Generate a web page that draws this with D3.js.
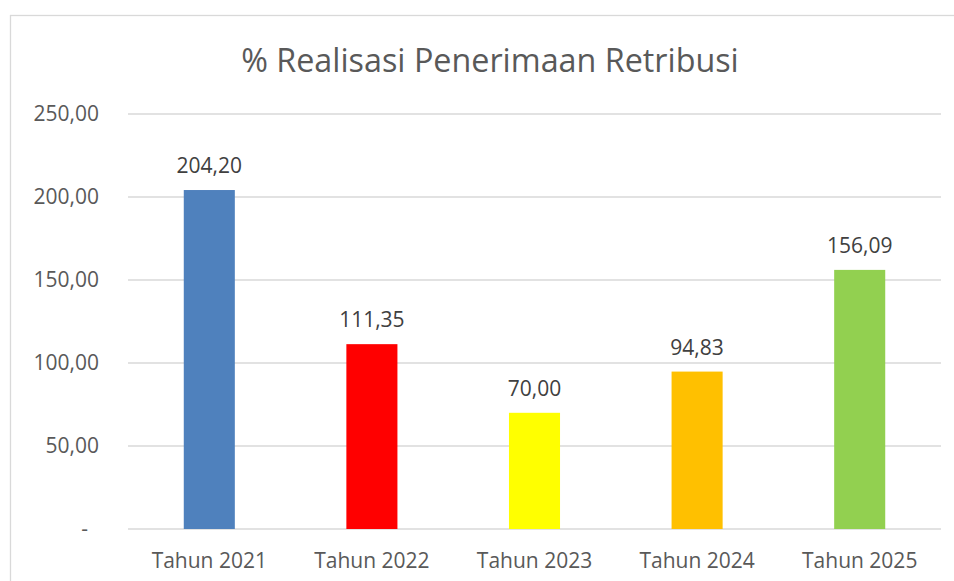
<!DOCTYPE html>
<html>
<head>
<meta charset="utf-8">
<script src="https://cdn.jsdelivr.net/npm/d3@7"></script>
<style>
  body { margin: 0; background: #fff; }
  svg { display: block; font-family: "Open Sans", "Noto Sans", sans-serif; }
</style>
</head>
<body>
<div id="chart"></div>
<script>
// data
var categories = ["Tahun 2021", "Tahun 2022", "Tahun 2023", "Tahun 2024", "Tahun 2025"];
var values = [204.20, 111.35, 70.00, 94.83, 156.09];
var barColors = ["#4F81BD", "#FF0000", "#FFFF00", "#FFC000", "#92D050"];
var yTicks = [0, 50, 100, 150, 200, 250];
var title = "% Realisasi Penerimaan Retribusi";

var width = 954, height = 581;
var plot = { left: 128, right: 941, top: 114, bottom: 529 };

var svg = d3.select("#chart").append("svg")
  .attr("width", width)
  .attr("height", height);

// chart frame (runs off the right / bottom of the picture)
svg.append("rect")
  .attr("x", 10.5).attr("y", 15.5)
  .attr("width", 1000).attr("height", 700)
  .attr("fill", "none")
  .attr("stroke", "#D9D9D9")
  .attr("stroke-width", 1.3);

var x = d3.scaleBand()
  .domain(categories)
  .range([plot.left, plot.right])
  .paddingInner(0.686)
  .paddingOuter(0.343);

var y = d3.scaleLinear()
  .domain([0, 250])
  .range([plot.bottom, plot.top]);

function fmt(v) {
  return v.toFixed(2).replace(".", ",");
}

// gridlines
svg.append("g").selectAll("line")
  .data(yTicks)
  .join("line")
  .attr("x1", plot.left).attr("x2", plot.right)
  .attr("y1", function(d) { return y(d); })
  .attr("y2", function(d) { return y(d); })
  .attr("stroke", "#D9D9D9")
  .attr("stroke-width", 1.5);

// y axis labels
var yAxis = d3.axisLeft(y)
  .tickValues(yTicks)
  .tickSize(0)
  .tickPadding(0)
  .tickFormat(function(d) { return d === 0 ? "-" : fmt(d); });

var yg = svg.append("g")
  .attr("transform", "translate(99,0)")
  .call(yAxis);
yg.select(".domain").remove();
yg.selectAll("text")
  .attr("font-size", 21)
  .attr("fill", "#595959")
  .attr("font-family", "Open Sans")
  .attr("dx", function(d) { return d === 0 ? -11 : 0; });

// bars
svg.append("g").selectAll("rect")
  .data(values)
  .join("rect")
  .attr("x", function(d, i) { return x(categories[i]); })
  .attr("width", x.bandwidth())
  .attr("y", function(d) { return y(d); })
  .attr("height", function(d) { return y(0) - y(d); })
  .attr("fill", function(d, i) { return barColors[i]; });

// value labels
svg.append("g").selectAll("text")
  .data(values)
  .join("text")
  .attr("x", function(d, i) { return x(categories[i]) + x.bandwidth() / 2; })
  .attr("y", function(d) { return y(d) - 17; })
  .attr("text-anchor", "middle")
  .attr("font-size", 21)
  .attr("fill", "#404040")
  .text(function(d) { return fmt(d); });

// x axis labels
var xAxis = d3.axisBottom(x).tickSize(0).tickPadding(0);
var xg = svg.append("g")
  .attr("transform", "translate(0," + plot.bottom + ")")
  .call(xAxis);
xg.select(".domain").remove();
xg.selectAll("text")
  .attr("dy", null)
  .attr("y", 39)
  .attr("font-size", 21)
  .attr("fill", "#595959")
  .attr("font-family", "Open Sans");

// title
svg.append("text")
  .attr("x", 490)
  .attr("y", 72)
  .attr("text-anchor", "middle")
  .attr("font-size", 32.3)
  .attr("fill", "#595959")
  .text(title);
</script>
</body>
</html>
